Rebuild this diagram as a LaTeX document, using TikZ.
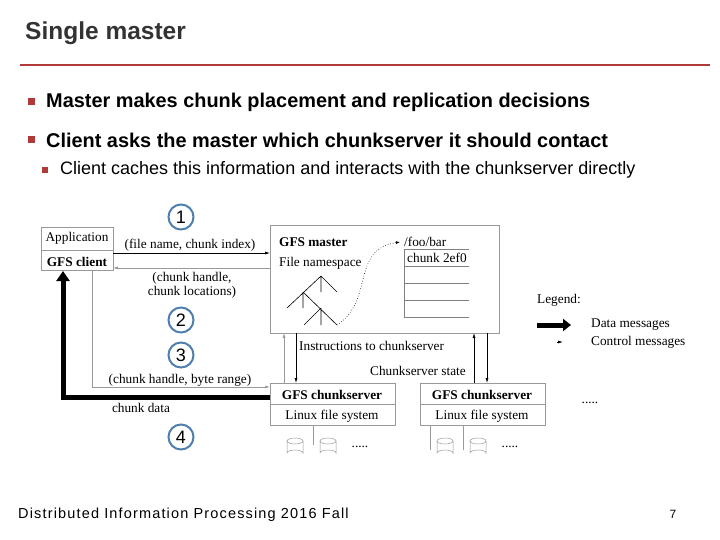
\documentclass[tikz,border=0pt]{standalone}
\usepackage{fontspec}
\setmainfont{Liberation Sans}
\newfontfamily\ser{Liberation Serif}
\usetikzlibrary{arrows.meta}
\definecolor{titlec}{HTML}{333333}
\definecolor{redline}{HTML}{B03A3A}
\definecolor{circ}{HTML}{4F7FAF}
\definecolor{lgray}{HTML}{999999}
\begin{document}
\begin{tikzpicture}[x=1pt,y=-1pt,
  dg/.style={font=\ser\fontsize{13.3}{14}\selectfont, inner sep=0pt},
  dgb/.style={font=\ser\bfseries\fontsize{13.3}{14}\selectfont, inner sep=0pt},
  box/.style={draw=lgray, line width=0.6pt},
  num/.style={circle, draw=circ, line width=2pt, fill=white, minimum size=25pt, inner sep=0pt, font=\fontsize{18}{18}\selectfont},
  ctl/.style={-{Latex[length=5pt,width=3pt]}, line width=0.6pt},
  bul/.style={fill=redline, minimum size=7pt, inner sep=0pt}]
\useasboundingbox (0,0) rectangle (720,540);
\node[anchor=west, font=\bfseries\fontsize{24.5}{26}\selectfont, text=titlec, inner sep=0pt] (title) at (25,33) {Single master};
\draw[redline, line width=1.5pt] (20,65) -- (710,65);
\node[bul] (b1) at (31,102) {};
\node[anchor=west, font=\bfseries\fontsize{19.9}{21}\selectfont, inner sep=0pt] (t1) at (46,102) {Master makes chunk placement and replication decisions};
\node[bul] (b2) at (31,140) {};
\node[anchor=west, font=\bfseries\fontsize{19.9}{21}\selectfont, inner sep=0pt] (t2) at (46,140) {Client asks the master which chunkserver it should contact};
\node[bul, minimum size=6pt] (b3) at (45,170) {};
\node[anchor=west, font=\fontsize{18}{19}\selectfont, inner sep=0pt] (t3) at (60,170) {Client caches this information and interacts with the chunkserver directly};
% client
\draw[box] (41,227) rectangle (113,270);
\draw[box] (41,250) -- (113,250);
\node[dg] (app) at (77,238) {Application};
\node[dgb] (cli) at (77,262) {GFS client};
\coordinate (cliR1) at (113,253);
\coordinate (cliR2) at (113,268);
% master
\draw[box] (270,225) rectangle (499,333);
\node[dgb, anchor=west] (gm) at (279,242) {GFS master};
\node[dg, anchor=west] (fn) at (279,263) {File namespace};
\node[dg, anchor=west] (foo) at (404,242) {/foo/bar};
\draw[box, draw=gray] (469,249) -- (404,249) -- (404,317) -- (469,317);
\draw[gray, line width=0.6pt] (404,266) -- (469,266) (404,283) -- (469,283) (404,300) -- (469,300);
\node[dg, anchor=west] (ch) at (407,258) {chunk 2ef0};
\draw[line width=0.6pt] (287,308) -- (321,276) -- (337,292) (321,276) -- (321,292)
  (303,292) -- (337,325) (303,292) -- (303,308)
  (321,308) -- (304,325) (321,308) -- (321,325);
\coordinate (tipT) at (337,325);
\coordinate (fooL) at (400,242);
\draw[dotted, line width=0.6pt, -{Latex[length=4pt,width=3pt]}] (tipT) .. controls (375,300) and (350,250) .. (fooL);
\coordinate (mL1) at (270,253);
\coordinate (mL2) at (270,268);
\draw[ctl] (cliR1) -- (mL1);
\draw[ctl, draw=lgray] (mL2) -- (cliR2);
\node[dg] (l1) at (190,245) {(file name, chunk index)};
\node[dg, align=center] (l2) at (192,285) {(chunk handle,\\ chunk locations)};
% chunkservers
\draw[box] (270,383) rectangle (395,425);
\draw[box] (270,404) -- (395,404);
\node[dgb] (cs1) at (332,395) {GFS chunkserver};
\node[dg] (fs1) at (332,416) {Linux file system};
\draw[box] (420,383) rectangle (545,425);
\draw[box] (420,404) -- (545,404);
\node[dgb] (cs2) at (482,395) {GFS chunkserver};
\node[dg] (fs2) at (482,416) {Linux file system};
\node[dg] (dd) at (590,403) {.....};
% client -> chunkserver
\draw[ctl, draw=lgray] (92,270) -- (92,387) -- (270,387);
\node[dg] (l3) at (180,380) {(chunk handle, byte range)};
\draw[line width=5pt, -{Triangle[length=10pt,width=13pt]}] (270,397) -- (63,397) -- (63,271);
\node[dg] (l4) at (141,408) {chunk data};
% master <-> chunkservers
\draw[ctl, draw=lgray] (284,383) -- (284,333);
\draw[ctl] (296,333) -- (296,383);
\draw[ctl] (474,383) -- (474,333);
\draw[ctl] (487,333) -- (487,383);
\node[dg, anchor=west] (ins) at (299,346) {Instructions to chunkserver};
\node[dg, anchor=east] (st) at (466,371) {Chunkserver state};
% disks
\foreach \x in {295,328,445,478}{
  \draw[lgray, line width=0.5pt] (\x-8,441) -- (\x-8,453) arc[start angle=180,end angle=360,x radius=8,y radius=3] -- (\x+8,441);
  \draw[lgray, line width=0.5pt] (\x,441) ellipse[x radius=8,y radius=3];
}
\draw[lgray, line width=0.5pt] (313,425) -- (313,445) (430,425) -- (430,450) (463,425) -- (463,450);
\node[dg] (e1) at (360,447) {.....};
\node[dg] (e2) at (510,447) {.....};
% numbers
\node[num] (n1) at (181,217) {1};
\node[num] (n2) at (181,320) {2};
\node[num] (n3) at (181,355) {3};
\node[num] (n4) at (181,437) {4};
% legend
\node[dg, anchor=west] (lg) at (537,300) {Legend:};
\draw[line width=5pt, -{Triangle[length=8pt,width=12pt]}] (537,325) -- (571,325);
\node[dg, anchor=west] (dm) at (591,325) {Data messages};
\draw[ctl] (557,342) -- (563,342);
\node[dg, anchor=west] (cm) at (591,342) {Control messages};
% footer
\node[anchor=west, font=\fontsize{14.5}{15}\selectfont, inner sep=0pt] (foot) at (18,515) {\addfontfeatures{LetterSpace=8}Distributed Information Processing 2016 Fall};
\node[font=\fontsize{12}{12}\selectfont] (pg) at (673,514) {7};
\end{tikzpicture}
\end{document}
